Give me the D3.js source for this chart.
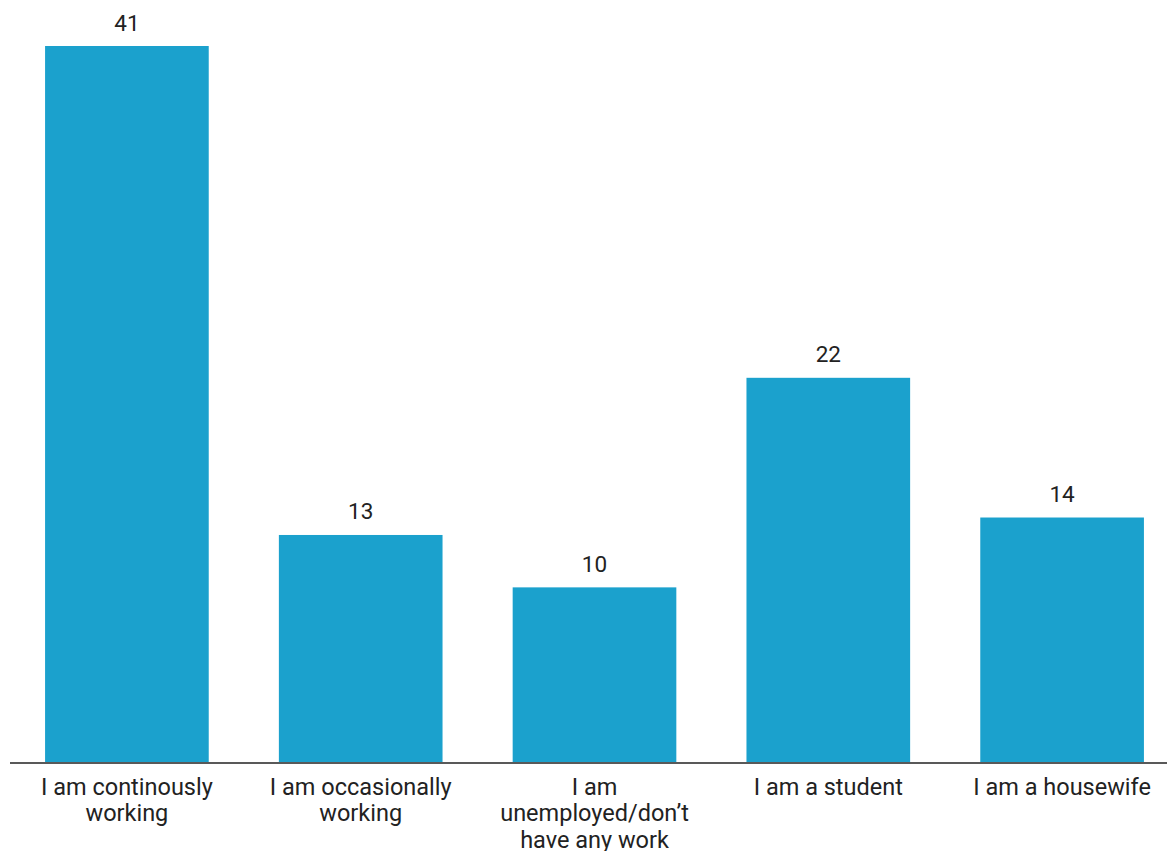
<!DOCTYPE html>
<html><head><meta charset="utf-8">
<script src="https://cdn.jsdelivr.net/npm/d3@7"></script>
<style>html,body{margin:0;padding:0;background:#fff;overflow:hidden}</style>
</head><body><svg id="c" width="1167" height="851"></svg>
<script>
const categories = ["I am continously working","I am occasionally working","I am unemployed/don’t have any work","I am a student","I am a housewife"];
const labelLines = [["I am continously","working"],["I am occasionally","working"],["I am","unemployed/don’t","have any work"],["I am a student"],["I am a housewife"]];
const values = [41,13,10,22,14];

const svg = d3.select("#c");
const x = d3.scaleBand().domain(categories).range([10,1179]).paddingInner(0.3).paddingOuter(0.15);
const y = d3.scaleLinear().domain([0,41]).range([762,46]);
const font = "Roboto, 'Noto Sans', sans-serif";

svg.selectAll("rect.bar").data(values).join("rect")
  .attr("x",(d,i)=>x(categories[i])).attr("width",x.bandwidth())
  .attr("y",d=>y(d)).attr("height",d=>y(0)-y(d)).attr("fill","#1ba1cd");

svg.selectAll("text.val").data(values).join("text")
  .attr("x",(d,i)=>x(categories[i])+x.bandwidth()/2).attr("y",d=>y(d)-15.5)
  .attr("text-anchor","middle").attr("font-family",font).attr("font-size",22.5).attr("fill","#222")
  .text(d=>d);

svg.append("line").attr("x1",10).attr("x2",1167).attr("y1",y(0)+1).attr("y2",y(0)+1)
  .attr("stroke","#222").attr("stroke-width",1.6);

const lg = svg.selectAll("g.lab").data(categories).join("g")
  .attr("transform",d=>`translate(${x(d)+x.bandwidth()/2},0)`);
lg.each(function(d,i){
  const t = d3.select(this).append("text").attr("text-anchor","middle")
    .attr("font-family",font).attr("font-size",23.5).attr("fill","#222");
  labelLines[i].forEach((ln,j)=>t.append("tspan").attr("x",0).attr("y",794.5+j*26.5).text(ln));
});
</script></body></html>
